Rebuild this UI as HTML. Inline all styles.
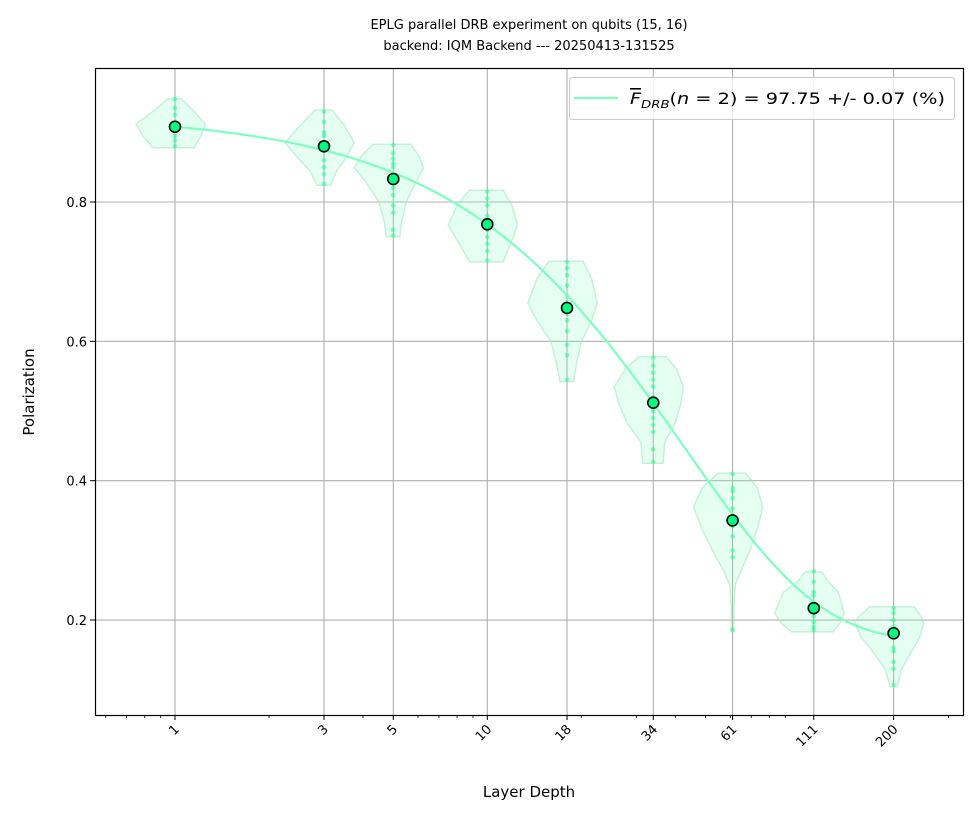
<!DOCTYPE html>
<html><head><meta charset="utf-8"><style>
body{margin:0;background:#fff}
svg text{font-family:"DejaVu Sans","Liberation Sans",sans-serif;fill:#000}
</style></head><body>
<svg id="chart" width="980" height="819" viewBox="0 0 980 819" xmlns="http://www.w3.org/2000/svg">
<text x="529" y="29" font-size="13" text-anchor="middle">EPLG parallel DRB experiment on qubits (15, 16)</text>
<text x="529" y="50" font-size="13" text-anchor="middle">backend: IQM Backend --- 20250413-131525</text>
<g id="grid"></g>
<g id="violins"></g>
<g id="dots"></g>
<path id="fit" fill="none" stroke="#7fffc0" stroke-width="2.2"/>
<g id="means"></g>
<rect x="95.5" y="68.5" width="868" height="647" fill="none" stroke="#000" stroke-width="1.2"/>
<g id="ticks"></g>
<text x="529" y="797" font-size="15" text-anchor="middle">Layer Depth</text>
<text transform="translate(34,392) rotate(-90)" font-size="15" text-anchor="middle">Polarization</text>
<g>
<rect x="569.5" y="77.5" width="385" height="42" rx="3" fill="#fff" fill-opacity="0.8" stroke="#ccc"/>
<line x1="574" y1="98" x2="618" y2="98" stroke="#7fffc0" stroke-width="2.2"/>
<text x="630" y="104" font-size="16" textLength="315" lengthAdjust="spacingAndGlyphs"><tspan text-decoration="overline" font-style="italic">F</tspan><tspan font-size="11" dy="4" font-style="italic">DRB</tspan><tspan dy="-4">(</tspan><tspan font-style="italic">n</tspan><tspan> = 2) = 97.75 +/- 0.07 (%)</tspan></text>
</g>
</svg>
<script>
const depths=[1,3,5,10,18,34,61,111,200];
const means=[0.908,0.880,0.833,0.768,0.648,0.512,0.343,0.217,0.181];
const yTicks=[0.2,0.4,0.6,0.8];
const xTickLabels=["1","3","5","10","18","34","61","111","200"];
const fitA=0.7554, fitP=0.9769, fitB=0.17;
const violin1=[[0.948,0.2],[0.93,0.6],[0.912,1],[0.895,0.85],[0.878,0.6]];
const violin3=[[0.932,0.25],[0.91,0.65],[0.885,1],[0.86,0.65],[0.845,0.4],[0.824,0.2]];
const violin5=[[0.883,0.55],[0.865,0.85],[0.849,1],[0.83,0.75],[0.80,0.4],[0.77,0.25],[0.75,0.2]];
const violin10=[[0.817,0.5],[0.795,0.8],[0.767,1],[0.745,0.8],[0.725,0.6],[0.714,0.5]];
const violin18=[[0.715,0.5],[0.69,0.8],[0.655,1],[0.63,0.8],[0.60,0.45],[0.57,0.3],[0.542,0.2]];
const violin34=[[0.578,0.4],[0.56,0.75],[0.535,1],[0.51,0.9],[0.483,0.7],[0.455,0.35],[0.425,0.3]];
const violin61=[[0.411,0.4],[0.39,0.8],[0.362,1],[0.33,0.8],[0.30,0.55],[0.27,0.25],[0.25,0.08],[0.22,0.04],[0.183,0.03]];
const violin111=[[0.269,0.25],[0.255,0.45],[0.24,0.8],[0.21,1],[0.195,0.85],[0.183,0.6]];
const violin200=[[0.219,0.65],[0.205,0.9],[0.196,1],[0.175,0.85],[0.157,0.6],[0.13,0.25],[0.104,0.1]];
const samples1=[0.948,0.935,0.925,0.915,0.905,0.895,0.888,0.88];
const samples3=[0.93,0.915,0.9,0.895,0.885,0.875,0.86,0.85,0.84,0.826];
const samples5=[0.882,0.87,0.862,0.855,0.85,0.84,0.82,0.81,0.795,0.785,0.76,0.752];
const samples10=[0.815,0.805,0.795,0.78,0.77,0.76,0.75,0.74,0.73,0.716];
const samples18=[0.714,0.705,0.695,0.68,0.665,0.655,0.64,0.63,0.615,0.595,0.58,0.545];
const samples34=[0.577,0.565,0.555,0.545,0.535,0.52,0.5,0.49,0.48,0.47,0.445,0.427];
const samples61=[0.41,0.39,0.385,0.375,0.36,0.35,0.335,0.32,0.30,0.29,0.186];
const samples111=[0.27,0.255,0.24,0.235,0.225,0.215,0.205,0.197,0.19,0.185];
const samples200=[0.217,0.21,0.2,0.19,0.175,0.16,0.155,0.14,0.13,0.107];
const violins=[violin1,violin3,violin5,violin10,violin18,violin34,violin61,violin111,violin200];
const samples=[samples1,samples3,samples5,samples10,samples18,samples34,samples61,samples111,samples200];

const NS="http://www.w3.org/2000/svg";
const X0=175, DEC=312.3, Y08=202, YPX=696.7, L=95, R=963, T=68, B=715;
const xs=v=>X0+Math.log10(v)*DEC;
const ys=v=>Y08-(v-0.8)*YPX;
function mk(tag,attrs,parent){const e=document.createElementNS(NS,tag);for(const k in attrs)e.setAttribute(k,attrs[k]);parent.appendChild(e);return e;}
const grid=document.getElementById('grid'), ticks=document.getElementById('ticks');
depths.forEach((d,i)=>{
  const l=mk('line',{x1:xs(d),x2:xs(d),y1:T,y2:B,stroke:'#b0b0b0','stroke-width':1.1},grid);
  
  
  const t=mk('line',{x1:xs(d),x2:xs(d),y1:B,y2:B+5,stroke:'#000'},ticks);
  
  
  const tx=mk('text',{'font-size':13,'text-anchor':'end',transform:`translate(${xs(d)+5},${B+15}) rotate(-45)`},ticks);
  tx.textContent=xTickLabels[i];
  
  
});
[0.1,1,10,100].forEach(dec=>{for(let k=2;k<=9;k++){const v=k*dec;const x=xs(v);if(x<L||x>R)continue;
  const m=mk('line',{x1:x,x2:x,y1:B,y2:B+3,stroke:'#000','stroke-width':0.8},ticks);
  
  }});
yTicks.forEach(v=>{
  const l=mk('line',{x1:L,x2:R,y1:ys(v),y2:ys(v),stroke:'#b0b0b0','stroke-width':1.1},grid);
  
  
  const t=mk('line',{x1:L-5,x2:L,y1:ys(v),y2:ys(v),stroke:'#000'},ticks);
  
  
  const tx=mk('text',{x:L-8,y:ys(v)+5,'font-size':13,'text-anchor':'end'},ticks);
  tx.textContent=v.toFixed(1);
  
  
});
const vg=document.getElementById('violins');
violins.forEach((prof,i)=>{
  const d=depths[i], w=0.25*d;
  const right=prof.map(([v,r])=>`${xs(d+w*r).toFixed(1)},${ys(v).toFixed(1)}`);
  const left=prof.slice().reverse().map(([v,r])=>`${xs(d-w*r).toFixed(1)},${ys(v).toFixed(1)}`);
  const p=mk('polygon',{points:right.concat(left).join(' '),fill:'#7fffc0','fill-opacity':0.2,stroke:'#a8e8c4','stroke-opacity':0.6,'stroke-width':1.5,'stroke-linejoin':'round'},vg);
  
  
});
const dg=document.getElementById('dots');
samples.forEach((arr,i)=>{arr.forEach(v=>{
  const c=mk('circle',{cx:xs(depths[i]),cy:ys(v),r:2.3,fill:'#00ff88','fill-opacity':0.45},dg);
  
  
});});
let dpath='';
for(let k=0;k<=300;k++){const m=Math.pow(10,k/300*Math.log10(200));const v=fitA*Math.pow(fitP,m)+fitB;dpath+=(k?'L':'M')+xs(m).toFixed(1)+','+ys(v).toFixed(1);}
document.getElementById('fit').setAttribute('d',dpath);
const mg=document.getElementById('means');
means.forEach((v,i)=>{
  const c=mk('circle',{cx:xs(depths[i]),cy:ys(v),r:5.5,fill:'#00ff80',stroke:'#000','stroke-width':1.6},mg);
  
  
});
</script>
</body></html>
